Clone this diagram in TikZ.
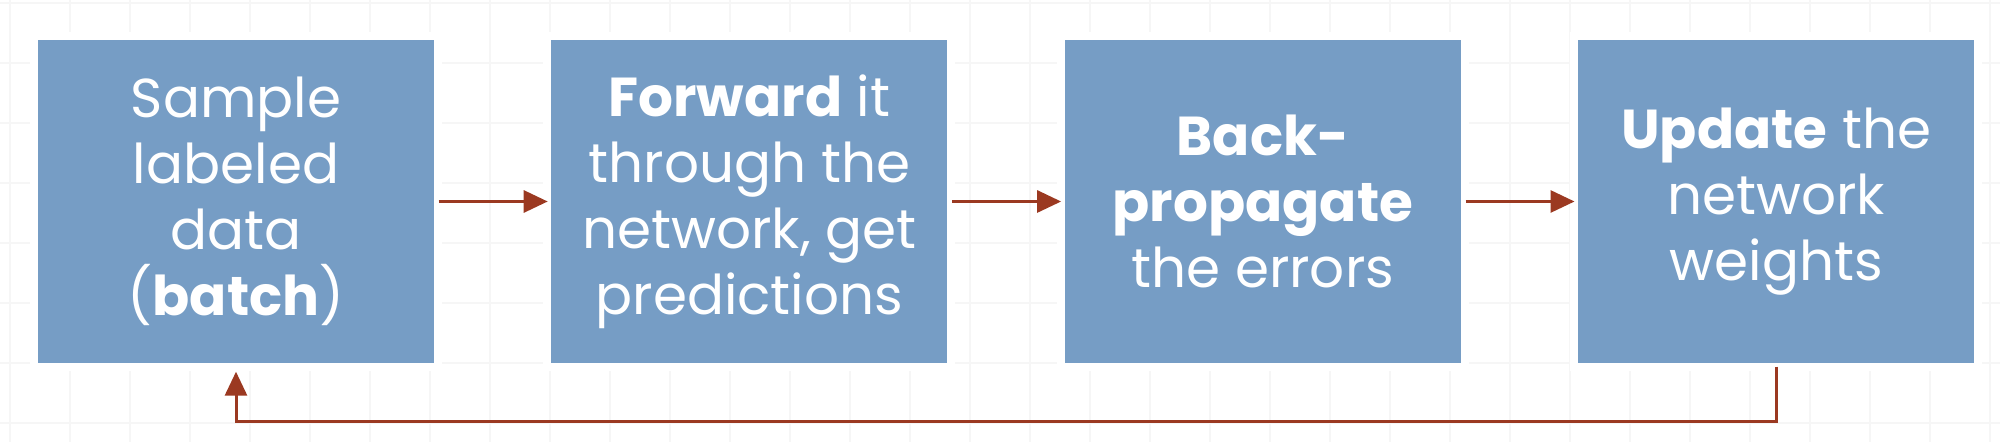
\documentclass[tikz,border=0pt]{standalone}
\usepackage{fontspec}
\setmainfont{Poppins}
\usetikzlibrary{positioning,arrows.meta}
\definecolor{boxblue}{RGB}{118,157,197}
\definecolor{arrowred}{RGB}{155,57,33}
\definecolor{gridgray}{RGB}{246,246,246}

\begin{document}
\begin{tikzpicture}[
    stepbox/.style={rectangle, fill=boxblue, minimum width=3.96cm, minimum height=3.23cm,
        text=white, align=center, inner sep=0pt,
        font=\fontsize{15.6}{18.8}\selectfont,
        execute at begin node={\rule{0pt}{0.58cm}},
        preaction={draw=white, line width=0.16cm}},
    flow/.style={draw=arrowred, line width=0.03cm, -{Triangle[length=0.24cm,width=0.22cm]}}
]
    \useasboundingbox (0,0) rectangle (20,4.42);
    % faint background grid
    \foreach \x in {0,...,33}
        \draw [gridgray, line width=0.02cm] (0.10+0.6*\x,0) -- (0.10+0.6*\x,4.42);
    \foreach \y in {0,...,7}
        \draw [gridgray, line width=0.02cm] (0,4.39-0.6*\y) -- (20,4.39-0.6*\y);
    % the four steps
    \node [stepbox] (sample) at (2.36,2.405) {Sample\\labeled\\data\\(\textbf{batch})};
    \node [stepbox, right=1.16cm of sample] (forward) {\textbf{Forward} it\\through the\\network, get\\predictions};
    \node [stepbox, right=1.16cm of forward] (backprop) {\textbf{Back-}\\\textbf{propagate}\\the errors};
    \node [stepbox, right=1.16cm of backprop] (update) {\textbf{Update} the\\network\\weights};
    % arrows
    \draw [flow, shorten <=0.04cm, shorten >=0.03cm] (sample) -- (forward);
    \draw [flow, shorten <=0.04cm, shorten >=0.03cm] (forward) -- (backprop);
    \draw [flow, shorten <=0.04cm, shorten >=0.03cm] (backprop) -- (update);
    \draw [flow, shorten <=0.03cm, shorten >=0.08cm] (update.south) -- ++(0,-0.58) -| (sample.south);
\end{tikzpicture}
\end{document}
